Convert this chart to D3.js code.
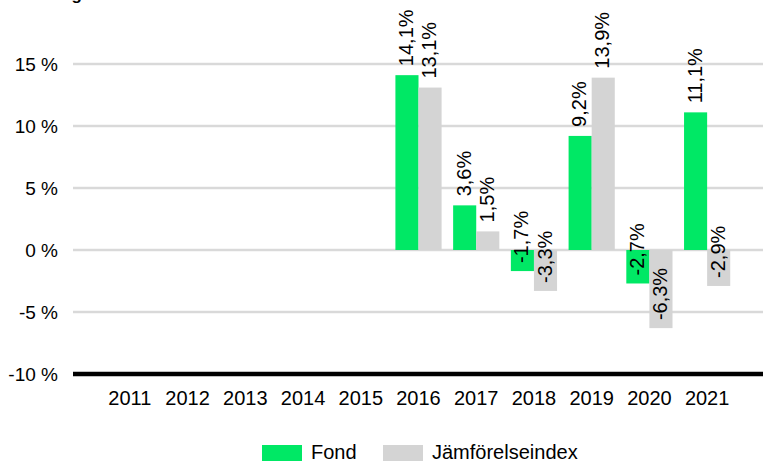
<!DOCTYPE html>
<html>
<head>
<meta charset="utf-8">
<script src="https://cdn.jsdelivr.net/npm/d3@7"></script>
<style>
  body { margin: 0; background: #fff; }
  svg { display: block; font-family: Arial, "Liberation Sans", sans-serif; }
</style>
</head>
<body>
<svg id="bar"></svg>
<script>
var years = ['2011', '2012', '2013', '2014', '2015', '2016', '2017', '2018', '2019', '2020', '2021']
var fondValues = [null, null, null, null, null, 14.1, 3.6, -1.7, 9.2, -2.7, 11.1]
var indexValues = [null, null, null, null, null, 13.1, 1.5, -3.3, 13.9, -6.3, -2.9]
var seriesNames = ['Fond', 'Jämförelseindex']
var yTicks = [-10, -5, 0, 5, 10, 15]

var outerWidth = 763, outerHeight = 461
var colors = {Fond: '#00e865', 'Jämförelseindex': '#d4d4d4'}

var svg = d3.select('svg#bar')
    .attr('width', outerWidth)
    .attr('height', outerHeight)

// title is cut off at the top of the picture, only a descender shows
svg.append('text')
    .attr('x', -9)
    .attr('y', -0.5)
    .style('font-size', '17px')
    .style('font-weight', 'bold')
    .text('Avkastning')

var rows = years.map(function(y, i) {
    return {year: y, values: [
        {key: seriesNames[0], value: fondValues[i]},
        {key: seriesNames[1], value: indexValues[i]}
    ]}
})

var xScale = d3.scaleBand()
    .domain(years)
    .range([101, 736])
    .paddingInner(0.2)
    .paddingOuter(0.1)

var xInner = d3.scaleBand()
    .domain(seriesNames)
    .range([0, xScale.bandwidth()])

var yScale = d3.scaleLinear()
    .domain([-10, 15])
    .range([374, 64])

// gridlines
svg.append('g')
    .selectAll('line')
    .data(yTicks.filter(function(t) { return t > -10 }))
    .join('line')
    .attr('x1', 73)
    .attr('x2', outerWidth)
    .attr('y1', function(d) { return yScale(d) })
    .attr('y2', function(d) { return yScale(d) })
    .style('stroke', '#d9d9d9')
    .style('stroke-width', 2.5)

// y tick labels
svg.append('g')
    .selectAll('text')
    .data(yTicks)
    .join('text')
    .attr('x', 58)
    .attr('y', function(d) { return yScale(d) })
    .attr('dy', '0.35em')
    .attr('text-anchor', 'end')
    .style('font-size', '19px')
    .text(function(d) { return d + ' %' })

// bars
var groups = svg.append('g')
    .selectAll('.chart_group')
    .data(rows)
    .join('g')
    .attr('class', 'chart_group')
    .attr('transform', function(d) { return 'translate(' + xScale(d.year) + ',0)' })

var cells = groups.selectAll('.cell')
    .data(function(d) { return d.values.filter(function(v) { return v.value !== null }) })
    .join('g')
    .attr('class', 'cell')

cells.append('rect')
    .attr('x', function(d) { return xInner(d.key) })
    .attr('width', xInner.bandwidth())
    .attr('y', function(d) { return yScale(Math.max(0, d.value)) })
    .attr('height', function(d) { return Math.abs(yScale(d.value) - yScale(0)) })
    .style('fill', function(d) { return colors[d.key] })

// labels run upwards from just above the bar end (inside the bar when negative)
cells.append('text')
    .attr('transform', function(d) {
        var cx = xInner(d.key) + xInner.bandwidth() / 2 - 1
        var cy = yScale(d.value) - (d.value > 0 ? 9 : 8)
        return 'translate(' + cx + ',' + cy + ') rotate(-90)'
    })
    .attr('dy', '0.35em')
    .style('font-size', '20px')
    .text(function(d) { return String(d.value).replace('.', ',') + '%' })

// axis line at -10 %
svg.append('line')
    .attr('x1', 73)
    .attr('x2', outerWidth)
    .attr('y1', yScale(-10))
    .attr('y2', yScale(-10))
    .style('stroke', '#000')
    .style('stroke-width', 4.5)

// year labels
svg.append('g')
    .selectAll('text')
    .data(years)
    .join('text')
    .attr('x', function(d) { return xScale(d) + xScale.bandwidth() / 2 })
    .attr('y', 405)
    .attr('text-anchor', 'middle')
    .style('font-size', '20px')
    .text(function(d) { return d })

// legend
var legendX = [262, 383]
var legend = svg.append('g')
    .selectAll('g')
    .data(seriesNames)
    .join('g')
    .attr('transform', function(d, i) { return 'translate(' + legendX[i] + ',445)' })

legend.append('rect')
    .attr('width', 40)
    .attr('height', 18)
    .style('fill', function(d) { return colors[d] })

legend.append('text')
    .attr('x', 49)
    .attr('y', 14)
    .style('font-size', '20px')
    .text(function(d) { return d })
</script>
</body>
</html>
